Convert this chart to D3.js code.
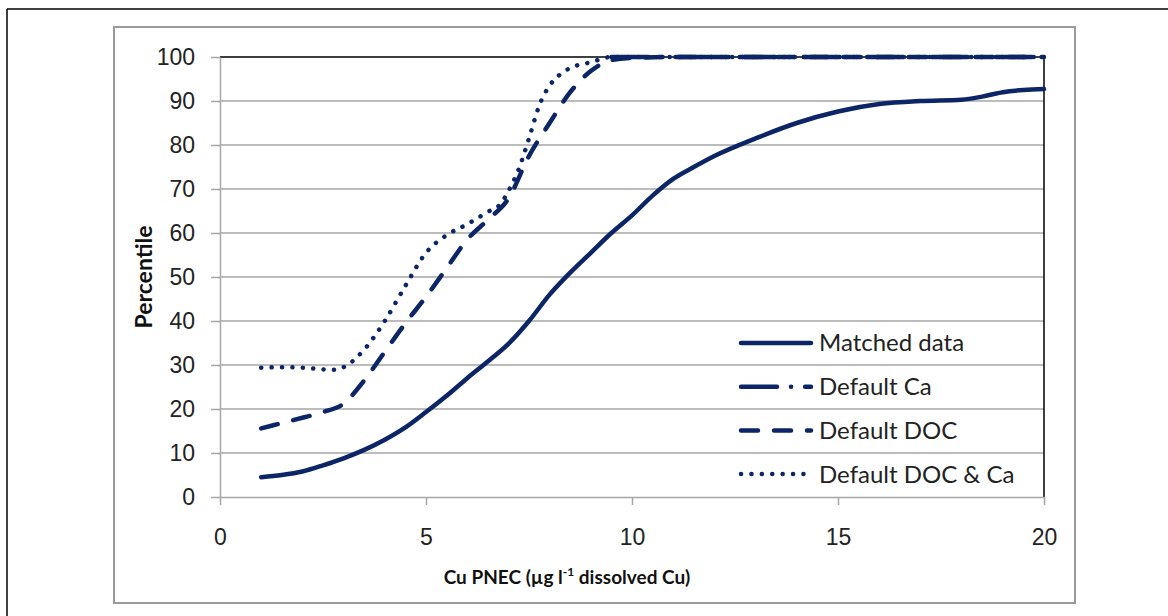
<!DOCTYPE html>
<head>
  <meta charset="utf-8">
  <style>
  body { margin: 0; background: #fff; }
  svg { display: block; font-family: Lato, "Open Sans", sans-serif; }
  .grid line { stroke: #a6a6a6; stroke-width: 1.5px; }
  .axis path, .axis line { stroke: #a6a6a6; stroke-width: 1.5px; }
  .axis text { font-size: 23px; fill: #222; }
  .series { fill: none; stroke: #0b2566; stroke-width: 4.5px; stroke-linecap: round; stroke-linejoin: round; }
  </style>
  <script src="https://d3js.org/d3.v7.min.js"></script>
</head>

<body>
  <svg width="1168" height="616"></svg>

  <script>

  // x values (Cu PNEC) and percentile values
  var matchedX = [1, 1.5, 2, 2.5, 3, 3.5, 4, 4.5, 5, 5.5, 6, 6.5, 7, 7.5, 8, 8.5, 9, 9.5, 10, 10.5, 11, 11.5, 12, 13, 14, 15, 16, 17, 18, 18.5, 19, 19.5, 20];
  var matchedY = [4.5, 5, 5.8, 7.2, 8.8, 10.7, 13, 15.8, 19.3, 23, 27, 30.8, 34.8, 40, 46, 51, 55.5, 60, 64, 68.5, 72.3, 75, 77.5, 81.5, 85, 87.6, 89.3, 90, 90.3, 91, 92, 92.5, 92.7];

  var caX = [9.5, 10, 11, 12, 13, 14, 15, 16, 17, 18, 19, 20];
  var caY = [100, 100, 100, 100, 100, 100, 100, 100, 100, 100, 100, 100];

  var docX = [1, 1.5, 2, 2.5, 3, 3.5, 4, 4.5, 5, 5.5, 6, 6.5, 7, 7.5, 8, 8.5, 9, 9.5, 10, 11, 12, 13, 14, 15, 16, 17, 18, 19, 20];
  var docY = [15.6, 16.8, 18, 19.3, 21.2, 26.5, 33, 39.5, 45.5, 52, 58.5, 63, 67.8, 77.5, 85, 92, 96.8, 99.3, 99.8, 100, 100, 100, 100, 100, 100, 100, 100, 100, 100];

  var docCaX = [1, 1.5, 2, 2.5, 2.8, 3, 3.5, 4, 4.5, 5, 5.5, 6, 6.5, 6.8, 7, 7.25, 7.5, 7.75, 8, 8.25, 8.5, 9, 9.5, 10, 12, 14, 16, 18, 20];
  var docCaY = [29.4, 29.5, 29.4, 29, 28.9, 29.5, 33.5, 40, 48, 55.5, 59.5, 62, 64.8, 66.5, 69.5, 74.5, 81.5, 89, 93.5, 96, 97.5, 98.8, 100, 100, 100, 100, 100, 100, 100];

  var seriesNames = ["Matched data", "Default Ca", "Default DOC", "Default DOC & Ca"];
  var dashes = [null, "36 14 0.1 14", "17 16", "0.1 10.3"];

  var xTicks = [0, 5, 10, 15, 20];
  var yTicks = [0, 10, 20, 30, 40, 50, 60, 70, 80, 90, 100];

  var svg = d3.select("svg");

  // outer frame (left and top edges only)
  svg.append("line").attr("x1", 7).attr("y1", 9).attr("x2", 1168).attr("y2", 9)
    .attr("stroke", "#000").attr("stroke-width", 1.5);
  svg.append("line").attr("x1", 7).attr("y1", 9).attr("x2", 7).attr("y2", 616)
    .attr("stroke", "#000").attr("stroke-width", 1.5);

  // chart area border
  svg.append("rect").attr("x", 114).attr("y", 27).attr("width", 961).attr("height", 576)
    .attr("fill", "#fff").attr("stroke", "#9a9a9a").attr("stroke-width", 2);

  var x = d3.scaleLinear().domain([0, 20]).range([220, 1044]);
  var y = d3.scaleLinear().domain([0, 100]).range([497, 57]);

  // gridlines
  svg.append("g").attr("class", "grid")
    .selectAll("line")
    .data(yTicks.filter(function(d) { return d > 0 && d < 100; }))
    .enter().append("line")
    .attr("x1", x(0)).attr("x2", x(20))
    .attr("y1", function(d) { return y(d); })
    .attr("y2", function(d) { return y(d); });

  // plot area border (top and right are black)
  svg.append("path")
    .attr("d", "M" + x(0) + "," + y(100) + "H" + x(20) + "V" + y(0))
    .attr("fill", "none").attr("stroke", "#000").attr("stroke-width", 1.5);

  svg.append("g").attr("class", "axis")
    .attr("transform", "translate(" + x(0) + ",0)")
    .call(d3.axisLeft(y).tickValues(yTicks).tickSize(9).tickPadding(16).tickSizeOuter(0));

  svg.append("g").attr("class", "axis")
    .attr("transform", "translate(0," + y(0) + ")")
    .call(d3.axisBottom(x).tickValues(xTicks).tickSize(8).tickPadding(24).tickSizeOuter(0));

  // axis titles
  var xTitle = svg.append("text")
    .attr("x", 567).attr("y", 584)
    .attr("text-anchor", "middle")
    .attr("font-size", 19).attr("font-weight", "bold").attr("fill", "#111");
  xTitle.append("tspan").text("Cu PNEC (");
  xTitle.append("tspan").text("\u00b5g l");
  xTitle.append("tspan").attr("font-size", 12).attr("dy", -8).text("-1");
  xTitle.append("tspan").attr("dy", 8).text(" dissolved Cu)");

  svg.append("text")
    .attr("transform", "translate(152,277) rotate(-90)")
    .attr("text-anchor", "middle")
    .attr("font-size", 23).attr("font-weight", "bold").attr("fill", "#111")
    .text("Percentile");

  // series
  var line = d3.line()
    .x(function(d) { return x(d[0]); })
    .y(function(d) { return y(d[1]); })
    .curve(d3.curveMonotoneX);

  var allSeries = [
    d3.zip(matchedX, matchedY),
    d3.zip(caX, caY),
    d3.zip(docX, docY),
    d3.zip(docCaX, docCaY)
  ];

  svg.append("g").selectAll("path")
    .data(allSeries)
    .enter().append("path")
    .attr("class", "series")
    .attr("d", line)
    .attr("stroke-width", function(d, i) { return i == 0 ? 5 : 4.5; })
    .attr("stroke-dasharray", function(d, i) { return dashes[i]; });

  // legend
  var legend = svg.append("g").selectAll("g")
    .data(seriesNames)
    .enter().append("g")
    .attr("transform", function(d, i) { return "translate(740," + (343 + i * 43.7) + ")"; });

  legend.append("line")
    .attr("class", "series")
    .attr("x1", 1).attr("x2", 71).attr("y1", 0).attr("y2", 0)
    .attr("stroke-dasharray", function(d, i) { return dashes[i]; });

  legend.append("text")
    .attr("x", 79).attr("dy", "0.35em")
    .attr("font-size", 24).attr("fill", "#222")
    .text(function(d) { return d; });

  </script>
</body>
